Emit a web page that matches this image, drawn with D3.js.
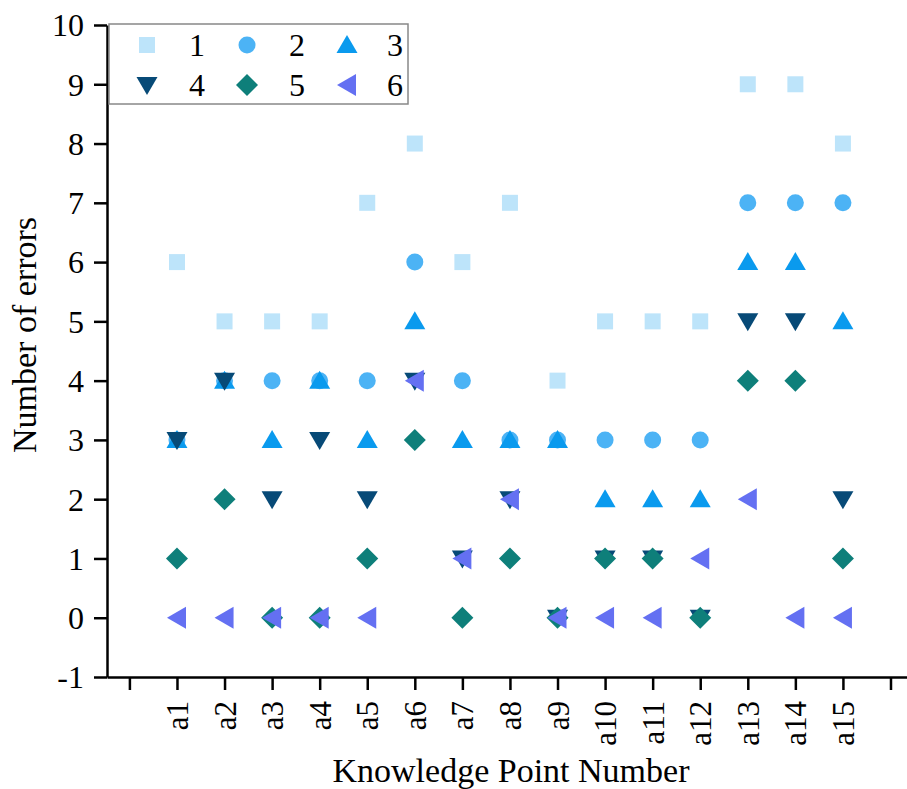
<!DOCTYPE html>
<html>
<head>
<meta charset="utf-8">
<script src="https://cdn.jsdelivr.net/npm/d3@7"></script>
<style>
  html, body { margin: 0; padding: 0; background: #fff; }
  svg { display: block; font-family: "Liberation Serif", "Times New Roman", serif; }
</style>
</head>
<body>
<div id="chart"></div>
<script>
const categories = ['a1', 'a2', 'a3', 'a4', 'a5', 'a6', 'a7', 'a8', 'a9', 'a10', 'a11', 'a12', 'a13', 'a14', 'a15'];
const seriesNames = ['1', '2', '3', '4', '5', '6'];
const s1 = [6, 5, 5, 5, 7, 8, 6, 7, 4, 5, 5, 5, 9, 9, 8];
const s2 = [3, 4, 4, 4, 4, 6, 4, 3, 3, 3, 3, 3, 7, 7, 7];
const s3 = [3, 4, 3, 4, 3, 5, 3, 3, 3, 2, 2, 2, 6, 6, 5];
const s4 = [3, 4, 2, 3, 2, 4, 1, 2, 0, 1, 1, 0, 5, 5, 2];
const s5 = [1, 2, 0, 0, 1, 3, 0, 1, 0, 1, 1, 0, 4, 4, 1];
const s6 = [0, 0, 0, 0, 0, 4, 1, 2, 0, 0, 0, 1, 2, 0, 0];
const yTicks = [-1, 0, 1, 2, 3, 4, 5, 6, 7, 8, 9, 10];

const width = 907;
const height = 789;
const FONT = '"Liberation Serif", "Times New Roman", serif';

// marker shapes, centred on 0,0
const shapes = {
  square: 'M-8,-8H8V8H-8Z',
  circle: 'M8.5,0A8.5,8.5 0 1,1 -8.5,0A8.5,8.5 0 1,1 8.5,0Z',
  up: 'M0,-10L10.5,8L-10.5,8Z',
  down: 'M0,10L10.5,-8L-10.5,-8Z',
  diamond: 'M0,-11L11,0L0,11L-11,0Z',
  left: 'M-10,0L9,-11L9,11Z',
};

const series = [
  { name: seriesNames[0], values: s1, shape: 'square', color: '#bde4fa' },
  { name: seriesNames[1], values: s2, shape: 'circle', color: '#4cb3f5' },
  { name: seriesNames[2], values: s3, shape: 'up', color: '#0a9aee' },
  { name: seriesNames[3], values: s4, shape: 'down', color: '#074a77' },
  { name: seriesNames[4], values: s5, shape: 'diamond', color: '#0e7f7a' },
  { name: seriesNames[5], values: s6, shape: 'left', color: '#6470f2' },
];

const svg = d3.select('#chart')
  .append('svg')
  .attr('width', width)
  .attr('height', height);

const x = d3.scaleLinear()
  .domain([-0.471, 16.347])
  .range([107, 907]);

const y = d3.scaleLinear()
  .domain([-1, 10])
  .range([677, 25]);

// points
const plot = svg.append('g');
series.forEach(s => {
  plot.append('g')
    .selectAll('path')
    .data(s.values)
    .enter()
    .append('path')
      .attr('d', shapes[s.shape])
      .attr('transform', (d, i) => `translate(${x(i + 1)},${y(d)})`)
      .attr('fill', s.color);
});

// y axis
const yAxis = d3.axisLeft(y)
  .tickValues(yTicks)
  .tickSize(13)
  .tickSizeOuter(0)
  .tickPadding(10)
  .tickFormat(d => String(d));
const yG = svg.append('g')
  .attr('transform', `translate(${x.range()[0]},0)`)
  .call(yAxis);
yG.select('.domain').attr('stroke-width', 2.5).attr('stroke', '#000');
yG.selectAll('.tick line').attr('stroke-width', 2.5).attr('stroke', '#000');
yG.selectAll('.tick text')
  .attr('font-size', 32)
  .attr('font-family', FONT)
  .attr('fill', '#000')
  .attr('dy', '0.34em');

// x axis
const xAxis = d3.axisBottom(x)
  .tickValues(d3.range(0, 17))
  .tickSize(13)
  .tickSizeOuter(0)
  .tickFormat(d => (d >= 1 && d <= categories.length) ? categories[d - 1] : '');
const xG = svg.append('g')
  .attr('transform', `translate(0,${y.range()[0]})`)
  .call(xAxis);
xG.select('.domain').attr('stroke-width', 2.5).attr('stroke', '#000');
xG.selectAll('.tick line').attr('stroke-width', 2.5).attr('stroke', '#000');
xG.selectAll('.tick text')
  .attr('font-size', 31)
  .attr('font-family', FONT)
  .attr('fill', '#000')
  .attr('transform', 'rotate(-90)')
  .attr('text-anchor', 'end')
  .attr('x', -24)
  .attr('y', 0)
  .attr('dy', '0.34em');

// axis titles
svg.append('text')
  .attr('x', 511)
  .attr('y', 782)
  .attr('text-anchor', 'middle')
  .attr('font-size', 34)
  .attr('fill', '#000')
  .text('Knowledge Point Number');

svg.append('text')
  .attr('transform', 'translate(36,335) rotate(-90)')
  .attr('text-anchor', 'middle')
  .attr('font-size', 34)
  .attr('fill', '#000')
  .text('Number of errors');

// legend
const legend = svg.append('g');
legend.append('rect')
  .attr('x', 109)
  .attr('y', 24)
  .attr('width', 299)
  .attr('height', 80)
  .attr('fill', '#fff')
  .attr('stroke', '#888')
  .attr('stroke-width', 1.5);

series.forEach((s, i) => {
  const col = i % 3;
  const row = Math.floor(i / 3);
  const g = legend.append('g')
    .attr('transform', `translate(${147 + col * 100},${45 + row * 40})`);
  g.append('path')
    .attr('d', shapes[s.shape])
    .attr('fill', s.color);
  g.append('text')
    .attr('x', col === 2 ? 48 : 50)
    .attr('y', 0)
    .attr('dy', '0.34em')
    .attr('text-anchor', 'middle')
    .attr('font-size', 32)
    .attr('fill', '#000')
    .text(s.name);
});
</script>
</body>
</html>
